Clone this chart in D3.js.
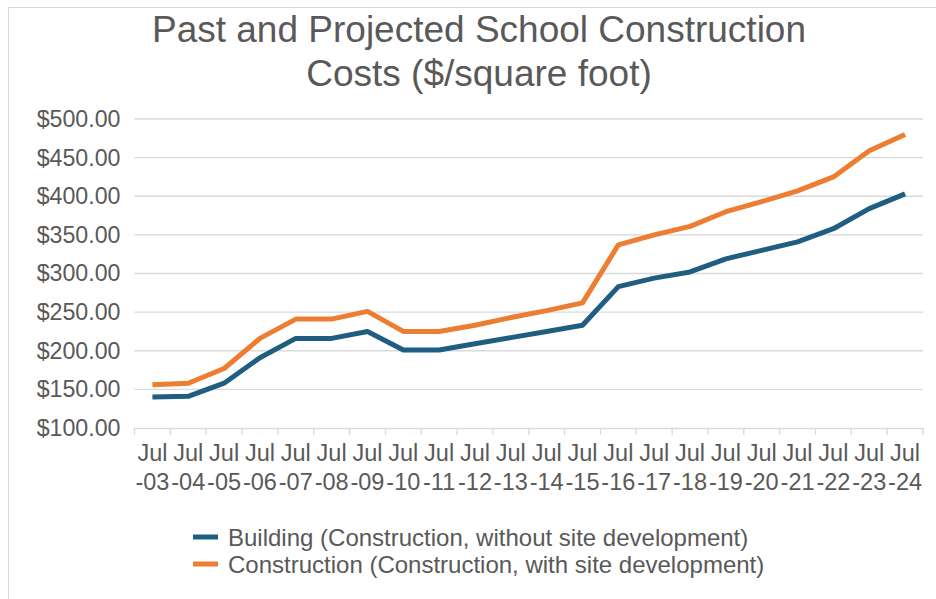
<!DOCTYPE html>
<html>
<head>
<meta charset="utf-8">
<script src="https://cdn.jsdelivr.net/npm/d3@7"></script>
<style>
  body { margin: 0; background: #fff; }
  text { font-family: "Liberation Sans", Arial, sans-serif; fill: #595959; }
</style>
</head>
<body>
<svg id="chart" width="936" height="599"></svg>
<script>
// data
const years = ['03','04','05','06','07','08','09','10','11','12','13','14','15','16','17','18','19','20','21','22','23','24'];
const building = [140, 141, 158, 191, 216, 216, 225, 201, 201, 209, 217, 225, 233, 283, 294, 302, 319, 330, 341, 358, 384, 403];
const construction = [156, 158, 177, 216, 241, 241, 251, 225, 225, 233, 243, 252, 262, 337, 350, 361, 380, 393, 407, 425, 459, 480];
const yTicks = [100, 150, 200, 250, 300, 350, 400, 450, 500];
const titleLines = ['Past and Projected School Construction', 'Costs ($/square foot)'];

const series = [
  { name: 'Building (Construction, without site development)', values: building, color: '#1f5e80' },
  { name: 'Construction (Construction, with site development)', values: construction, color: '#ed7d31' }
];

const svg = d3.select('#chart');

// chart area border
svg.append('rect')
  .attr('x', 8.5).attr('y', 7.5)
  .attr('width', 940).attr('height', 600)
  .attr('fill', 'none')
  .attr('stroke', '#d9d9d9');

let plotLeft = 134.5, plotRight = 923, plotTop = 119, plotBottom = 428;

let x = d3.scaleBand().domain(years).range([plotLeft, plotRight]);
let y = d3.scaleLinear().domain([100, 500]).range([plotBottom, plotTop]);

// title
svg.append('text')
  .attr('x', 479)
  .attr('text-anchor', 'middle')
  .style('font-size', '37px')
  .selectAll('tspan')
  .data(titleLines)
  .enter()
  .append('tspan')
  .attr('x', 479)
  .attr('y', (d, i) => 42 + i * 44)
  .text(d => d);

// gridlines
svg.append('g')
  .selectAll('line')
  .data(yTicks.slice(1))
  .enter()
  .append('line')
  .attr('x1', plotLeft).attr('x2', plotRight)
  .attr('y1', d => y(d)).attr('y2', d => y(d))
  .attr('stroke', '#d9d9d9')
  .attr('stroke-width', 1.3);

// y axis labels
let yAxis = d3.axisLeft(y).tickValues(yTicks).tickSize(0).tickPadding(14)
  .tickFormat(d => '$' + d3.format('.2f')(d));
let gy = svg.append('g').attr('transform', `translate(${plotLeft},0)`).call(yAxis);
gy.select('.domain').remove();
gy.selectAll('text').style('font-size', '23.2px').attr('fill', '#595959');

// x axis
let xAxis = d3.axisBottom(x).tickSize(0).tickFormat('');
let gx = svg.append('g').attr('transform', `translate(0,${plotBottom})`).call(xAxis);
gx.select('.domain').attr('stroke', '#d9d9d9').attr('stroke-width', 1.3);
gx.selectAll('.tick').remove();

// tick marks between categories
let boundaries = years.map(d => x(d)).concat([plotRight]);
gx.selectAll('line.mark')
  .data(boundaries)
  .enter()
  .append('line')
  .attr('class', 'mark')
  .attr('x1', d => d).attr('x2', d => d)
  .attr('y1', 0).attr('y2', 7)
  .attr('stroke', '#d9d9d9')
  .attr('stroke-width', 1.3);

let xl = gx.selectAll('text.lab')
  .data(years)
  .enter()
  .append('text')
  .attr('class', 'lab')
  .attr('text-anchor', 'middle')
  .style('font-size', '23.5px');
xl.append('tspan').attr('x', d => x(d) + x.bandwidth() / 2).attr('y', 33).text('Jul');
xl.append('tspan').attr('x', d => x(d) + x.bandwidth() / 2).attr('y', 62).text(d => '-' + d);

// lines
let line = d3.line()
  .x((d, i) => x(years[i]) + x.bandwidth() / 2)
  .y(d => y(d));

svg.selectAll('path.series')
  .data(series)
  .enter()
  .append('path')
  .attr('class', 'series')
  .attr('d', d => line(d.values))
  .attr('fill', 'none')
  .attr('stroke', d => d.color)
  .attr('stroke-width', 5)
  .attr('stroke-linejoin', 'round');

// legend
let legend = svg.selectAll('g.legend')
  .data(series)
  .enter()
  .append('g')
  .attr('class', 'legend')
  .attr('transform', (d, i) => `translate(193, ${537 + i * 27})`);

legend.append('line')
  .attr('x1', 0).attr('x2', 25)
  .attr('stroke', d => d.color)
  .attr('stroke-width', 5);

legend.append('text')
  .attr('x', 35)
  .attr('y', 8.5)
  .style('font-size', '24px')
  .text(d => d.name);
</script>
</body>
</html>
